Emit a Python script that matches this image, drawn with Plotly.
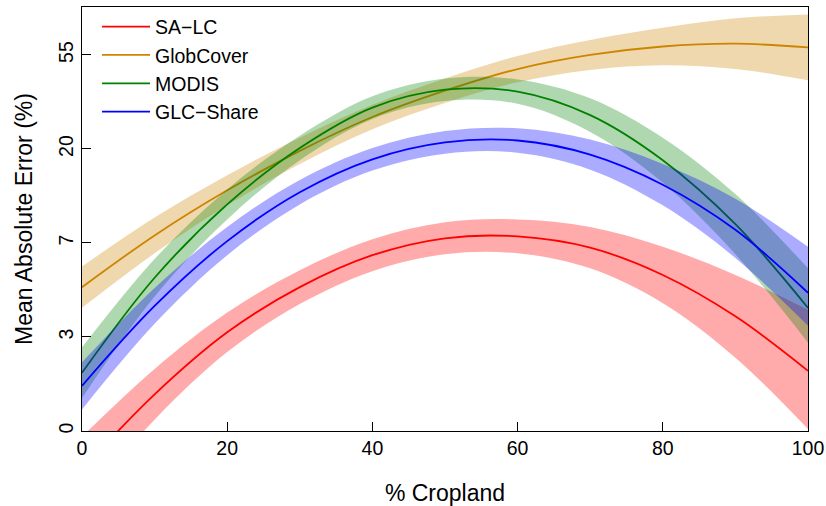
import plotly.graph_objects as go

# % Cropland positions
cropland = [0, 10, 20, 30, 40, 50, 60, 70, 80, 90, 100]

# Values on the chart's transformed error scale (ticks 0..4 labelled 0,3,7,20,55)
salc_fit = [-0.41, 0.39, 1.05, 1.53, 1.87, 2.05, 2.07, 1.95, 1.66, 1.22, 0.64]
salc_lo = [-0.76, 0.12, 0.84, 1.35, 1.70, 1.88, 1.89, 1.73, 1.36, 0.78, 0.02]
salc_hi = [-0.06, 0.66, 1.26, 1.71, 2.04, 2.22, 2.25, 2.17, 1.96, 1.66, 1.29]

globcover_fit = [1.53, 2.08, 2.56, 2.98, 3.34, 3.62, 3.85, 4.00, 4.09, 4.12, 4.08]
globcover_lo = [1.31, 1.89, 2.40, 2.84, 3.21, 3.49, 3.71, 3.84, 3.89, 3.85, 3.73]
globcover_hi = [1.75, 2.27, 2.72, 3.12, 3.47, 3.75, 3.99, 4.16, 4.29, 4.39, 4.43]

modis_fit = [0.62, 1.63, 2.41, 3.01, 3.44, 3.63, 3.61, 3.36, 2.88, 2.20, 1.31]
modis_lo = [0.35, 1.43, 2.25, 2.88, 3.32, 3.51, 3.48, 3.18, 2.64, 1.88, 0.94]
modis_hi = [0.89, 1.83, 2.57, 3.14, 3.56, 3.75, 3.74, 3.54, 3.12, 2.52, 1.73]

glc_fit = [0.48, 1.33, 2.02, 2.54, 2.89, 3.07, 3.09, 2.94, 2.62, 2.14, 1.47]
glc_lo = [0.23, 1.14, 1.87, 2.41, 2.77, 2.95, 2.96, 2.78, 2.40, 1.84, 1.12]
glc_hi = [0.73, 1.52, 2.17, 2.67, 3.01, 3.19, 3.22, 3.10, 2.84, 2.47, 1.96]

series_names = ["SA\u2212LC", "GlobCover", "MODIS", "GLC\u2212Share"]
line_colors = ["#FF0000", "#CD8500", "#008000", "#0000FF"]
band_colors = ["rgba(255,0,0,0.33)", "rgba(205,133,0,0.32)",
               "rgba(0,128,0,0.31)", "rgba(0,0,255,0.33)"]

y_tickvals = [0, 1, 2, 3, 4]
y_ticktext = ["0", "3", "7", "20", "55"]
x_tickvals = [0, 20, 40, 60, 80, 100]

FONT = "Liberation Sans, Arial, Helvetica, sans-serif"

fig = go.Figure()
data = [(salc_fit, salc_lo, salc_hi), (globcover_fit, globcover_lo, globcover_hi),
        (modis_fit, modis_lo, modis_hi), (glc_fit, glc_lo, glc_hi)]

for (fit, lo, hi), name, lc, bc in zip(data, series_names, line_colors, band_colors):
    fig.add_trace(go.Scatter(x=cropland, y=lo, mode="lines",
                             line=dict(width=0, shape="spline", color=bc),
                             showlegend=False, hoverinfo="skip"))
    fig.add_trace(go.Scatter(x=cropland, y=hi, mode="lines", fill="tonexty",
                             fillcolor=bc, line=dict(width=0, shape="spline", color=bc),
                             showlegend=False, hoverinfo="skip"))
    fig.add_trace(go.Scatter(x=cropland, y=fit, mode="lines", name=name,
                             line=dict(width=1.8, shape="spline", color=lc)))

fig.update_layout(
    width=826, height=506, autosize=False,
    margin=dict(l=82, r=18, t=7, b=75, autoexpand=False),
    paper_bgcolor="white", plot_bgcolor="white",
    font=dict(family=FONT, size=19.5, color="black"),
    showlegend=True,
    legend=dict(x=0.0207, y=0.999, xanchor="left", yanchor="top",
                bgcolor="rgba(0,0,0,0)", font=dict(size=19.5),
                traceorder="normal", itemwidth=48, tracegroupgap=0),
    xaxis=dict(range=[0, 100], tickvals=x_tickvals, ticks="inside", ticklen=9,
               tickcolor="black", showline=True, linecolor="black", linewidth=1,
               mirror=True, showgrid=False, zeroline=False, automargin=False,
               title=dict(text="% Cropland", standoff=26)),
    yaxis=dict(range=[0, 4.51], tickvals=y_tickvals, ticktext=y_ticktext,
               ticks="inside", ticklen=9, tickcolor="black", tickangle=-90,
               showline=True, linecolor="black", linewidth=1, mirror=True,
               showgrid=False, zeroline=False, automargin=False,
               title=dict(text="Mean Absolute Error (%)", standoff=16)),
)

fig.write_html("out.html", config={"displayModeBar": False},
               post_script="document.body.style.margin='0';")
